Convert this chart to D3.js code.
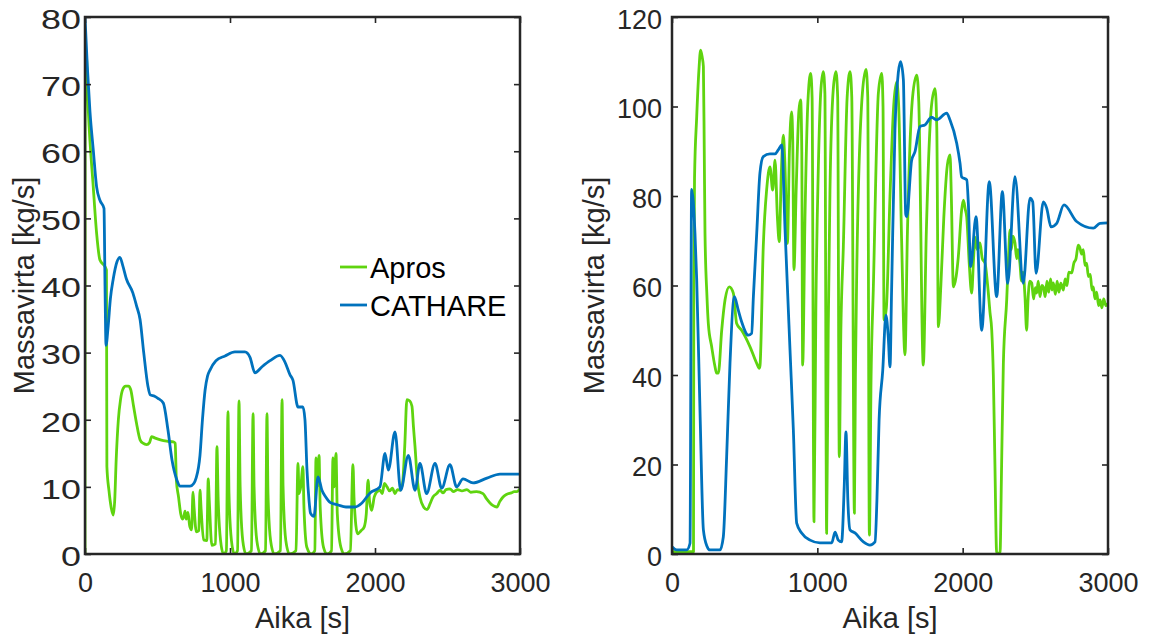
<!DOCTYPE html>
<html><head><meta charset="utf-8">
<script src="https://cdn.jsdelivr.net/npm/d3@7"></script>
<style>body{margin:0;background:#fff}svg{display:block}</style>
</head><body>
<svg id="c" width="1156" height="639"></svg>
<script>
// ---------- data ----------
const xTicks = [0, 1000, 2000, 3000];
const leftYTicks = [0, 10, 20, 30, 40, 50, 60, 70, 80];
const rightYTicks = [0, 20, 40, 60, 80, 100, 120];
const seriesNames = ["Apros", "CATHARE"];
const xLabel = "Aika [s]";
const yLabel = "Massavirta [kg/s]";

const leftApros = [[0,0],[1,75],[7,75],[23,66],[57,54.7],[80,47.8],[103,43.8],[138,42.8],[148,42.3],[151,13],[165,9.5],[180,7],[195,5.8],[205,8],[215,14],[230,20],[245,23],[260,24.5],[280,25],[300,25],[315,24.5],[335,22],[355,19.5],[380,17],[400,16.5],[425,16.3],[445,16.6],[460,17.5],[480,17.3],[520,17],[563,16.8],[610,16.7],[622,16.5],[630,11],[645,8.5],[660,6],[672,5.2],[682,5.6],[690,6.4],[698,5.2],[710,6.2],[722,4.2],[735,3.6],[745,9.2],[752,7],[768,3.3],[785,3.5],[793,9.5],[800,7],[818,2.1],[840,2],[850,11.2],[857,8],[875,1.3],[900,1.5],[910,16],[918,8.5],[935,2],[955,0],[975,0.5],[986,21.2],[993,9],[1010,2],[1030,0],[1052,0.5],[1062,22.8],[1070,10],[1088,2],[1110,0],[1148,0.5],[1159,20.9],[1166,10],[1185,2],[1210,0],[1245,0.5],[1255,20.9],[1262,9],[1280,2],[1305,0],[1348,0.5],[1359,23],[1366,10],[1385,2],[1410,0],[1455,0.5],[1469,13.5],[1476,9],[1488,10],[1503,13],[1510,7],[1530,1],[1560,0],[1585,0.5],[1593,14.3],[1600,10],[1614,14.7],[1622,7],[1645,1],[1670,0],[1700,0.5],[1710,14.3],[1718,10],[1731,15],[1740,6],[1765,1],[1790,0],[1830,0.5],[1848,13.3],[1856,8],[1880,3],[1905,3.5],[1925,4],[1940,6],[1952,11],[1962,8],[1977,6.5],[1995,8.5],[2010,9.2],[2034,9.5],[2050,9],[2065,10.5],[2083,10],[2100,9.4],[2120,9.8],[2138,9],[2155,9.6],[2172,9.5],[2190,10.5],[2205,16],[2220,23],[2240,22.8],[2255,22],[2265,19],[2276,16],[2292,11],[2310,8.5],[2335,7],[2359,6.6],[2380,7.5],[2400,8.5],[2426,9],[2448,9.5],[2470,9.1],[2490,9.6],[2517,9.7],[2540,9.3],[2570,9.6],[2600,9.4],[2634,9.6],[2660,9.2],[2700,9.3],[2745,9],[2770,8.2],[2793,7.6],[2815,7.2],[2841,7],[2860,7.8],[2883,8.5],[2910,8.9],[2940,9.1],[2960,9.3],[2979,9.3],[3000,9.7]];

const leftCathare = [[0,80],[16,72.6],[34,66],[57,60.2],[80,54.7],[103,52.7],[131,51.5],[138,40],[145,31.1],[160,34],[175,38],[195,41],[220,43.5],[241,44.2],[260,43],[285,41],[330,38.9],[355,37],[380,34.9],[405,30],[434,25],[450,23.7],[480,23.5],[503,23.2],[540,22.5],[572,18.5],[600,14],[634,11],[655,10.1],[724,10.1],[750,10.5],[766,11.3],[793,14.7],[810,20],[828,24.4],[845,26.5],[862,27.4],[903,28.8],[966,29.5],[1034,30.1],[1103,30.1],[1138,29.3],[1172,27],[1221,27.9],[1276,28.8],[1345,29.6],[1379,28.6],[1414,26.7],[1434,25.9],[1469,21.9],[1503,21.9],[1517,20],[1531,12.5],[1545,8],[1555,6.1],[1579,5.6],[1607,11.5],[1634,9.5],[1660,8.5],[1690,7.7],[1745,7.3],[1800,7],[1862,7],[1910,7.6],[1966,9.1],[2034,10],[2069,15],[2092,12.5],[2138,18.2],[2177,9.5],[2230,14.7],[2276,9.5],[2310,13.5],[2356,9],[2414,13.5],[2460,9.8],[2517,13.3],[2563,10],[2607,11.2],[2676,10.6],[2772,11.3],[2862,11.9],[3000,11.9]];

const rightApros = [[0,0.5],[148,0.5],[150,60],[155,84],[170,97.7],[185,108],[197,112.6],[208,111],[216,108.9],[222,90],[227,71.7],[240,58],[250,51.5],[273,46.3],[295,42],[307,40.4],[319,40.4],[342,50],[365,56.8],[394,59.7],[422,58.3],[445,51.5],[479,50],[537,46.3],[583,42.6],[601,41.5],[606,42.2],[628,68.7],[651,81.3],[674,86.5],[693,81.3],[709,88],[725,75.4],[738,69.8],[752,85],[766,93.6],[776,88],[794,69.4],[808,90],[823,98.8],[831,92],[839,63.5],[855,82],[873,99],[885,101.5],[893,90],[899,42.2],[915,75],[935,101],[954,107.4],[964,102],[977,7.2],[990,55],[1007,86.5],[1025,104],[1041,107.8],[1052,103],[1064,4.6],[1075,50],[1087,81.3],[1110,104],[1128,107.8],[1140,102],[1151,21.7],[1162,50],[1179,68.7],[1205,102],[1225,107.8],[1237,102],[1255,9.1],[1262,40],[1271,62.7],[1310,103],[1335,108.3],[1347,102],[1358,4.2],[1370,40],[1385,59],[1420,103],[1443,107.4],[1452,100],[1459,52.3],[1475,55],[1500,80],[1525,100],[1546,105.5],[1560,100],[1580,70],[1603,44.5],[1620,72],[1655,102],[1684,107],[1698,101],[1729,42.2],[1750,72],[1785,100],[1810,104],[1822,95],[1833,50.8],[1850,60],[1870,75],[1895,87],[1913,89.2],[1922,80],[1936,59.7],[1955,62],[1970,66.4],[1993,76.9],[2005,79.1],[2018,77],[2028,75.3],[2045,65],[2062,58.3],[2075,66],[2085,70.8],[2100,68],[2119,69.5],[2135,66],[2154,65],[2172,60],[2188,54],[2200,50],[2211,40],[2222,20],[2234,0.2],[2257,0.2],[2268,20],[2280,42.6],[2303,56.8],[2315,66],[2326,72.4],[2335,68],[2345,71],[2360,69.5],[2372,66],[2380,68],[2394,65],[2405,61],[2415,63],[2429,57.4],[2440,50],[2450,57],[2462,61],[2475,60.6],[2488,57],[2500,59.5],[2509,58.3],[2520,61],[2532,57.5],[2545,60],[2555,59.7],[2568,57.5],[2580,61],[2592,58.5],[2605,61.5],[2615,59],[2624,60.6],[2638,58],[2650,61],[2662,58.5],[2675,60.5],[2693,59],[2705,61.5],[2718,60],[2730,63],[2750,62.8],[2765,65],[2780,66],[2795,69],[2807,68.4],[2818,67],[2830,68],[2842,64.5],[2853,65],[2865,62],[2878,62.5],[2890,59],[2899,59.7],[2910,57],[2922,58.5],[2935,55.5],[2945,56.8],[2958,55],[2970,57],[2985,55.5],[3000,56]];

const rightCathare = [[0,1.6],[32,0.9],[101,0.9],[124,2.4],[135,81.5],[158,71.7],[170,61.2],[193,31.5],[216,5.4],[240,1.8],[261,0.9],[330,0.9],[353,3.8],[376,21.7],[399,42.6],[429,57.5],[456,54.5],[479,51.9],[525,48.9],[548,49.3],[560,57.5],[583,71.7],[605,85.1],[628,88.8],[674,89.4],[709,89.4],[731,90.3],[755,91.4],[778,72.4],[812,45.6],[835,27.7],[858,6.9],[892,4.7],[950,3.1],[1018,2.5],[1099,2.5],[1122,4.9],[1144,3.1],[1167,2.7],[1185,15],[1197,27.3],[1210,12],[1225,5.4],[1259,4.7],[1317,2.7],[1362,2],[1397,2.7],[1410,12],[1425,30],[1450,41],[1472,53.4],[1488,48.5],[1500,41.8],[1511,59],[1534,94.7],[1557,107.5],[1573,110],[1592,106],[1608,76],[1615,75.4],[1649,88],[1672,89.9],[1706,95.5],[1741,95.9],[1787,97.6],[1821,97],[1890,98.5],[1913,97],[1959,91.8],[1982,87.3],[1993,84.3],[2028,83.6],[2039,78.4],[2055,64.2],[2092,75.4],[2131,50],[2183,83.2],[2234,57.5],[2273,81],[2310,60.5],[2360,84.3],[2417,60.5],[2463,79.5],[2482,78.7],[2505,62.7],[2555,78.7],[2578,77.3],[2608,73.1],[2647,73.9],[2697,78],[2784,74.3],[2899,72.8],[2945,73.9],[3000,74]];

// ---------- drawing ----------
const svg = d3.select("#c");
const FONT = "'Liberation Sans', Arial, Helvetica, sans-serif";
const INK = "#262626";
const COLORS = { Apros: "#5fd40f", CATHARE: "#0072bd" };

function panel(o) {
  const x = d3.scaleLinear().domain([0, 3000]).range([o.x0, o.x1]);
  const y = d3.scaleLinear().domain([0, o.ymax]).range([o.y1, o.y0]);
  const clipId = "clip" + o.id;
  svg.append("clipPath").attr("id", clipId).append("rect")
    .attr("x", o.x0).attr("y", o.y0).attr("width", o.x1 - o.x0).attr("height", o.y1 - o.y0);

  const line = d3.line().x(d => x(d[0])).y(d => y(d[1])).curve(d3.curveMonotoneX);
  const g = svg.append("g").attr("clip-path", `url(#${clipId})`);
  [[o.apros, COLORS.Apros], [o.cathare, COLORS.CATHARE]].forEach(([d, c]) => {
    g.append("path").datum(d).attr("d", line).attr("fill", "none")
      .attr("stroke", c).attr("stroke-width", 2.8)
      .attr("stroke-linejoin", "round").attr("stroke-linecap", "round");
  });

  const style = (a, fs) => {
    a.select(".domain").remove();
    a.selectAll(".tick line").attr("stroke", INK).attr("stroke-width", 1.6);
    a.selectAll("text").attr("fill", INK).style("font-family", FONT).style("font-size", fs + "px");
    return a;
  };
  style(svg.append("g").attr("transform", `translate(0,${o.y1})`)
    .call(d3.axisBottom(x).tickValues(xTicks).tickSize(-6).tickPadding(19).tickFormat(d3.format("d"))), 27);
  style(svg.append("g").attr("transform", `translate(0,${o.y0})`)
    .call(d3.axisTop(x).tickValues(xTicks).tickSize(-6).tickFormat("")), 27);
  const la = style(svg.append("g").attr("transform", `translate(${o.x0},0)`)
    .call(d3.axisLeft(y).tickValues(o.yTicks).tickSize(-6).tickPadding(o.pad).tickFormat(d3.format("d"))), 27);
  la.selectAll("text").attr("dy", "0.42em").attr("transform", `scale(${o.ysx},1)`);
  style(svg.append("g").attr("transform", `translate(${o.x1},0)`)
    .call(d3.axisRight(y).tickValues(o.yTicks).tickSize(-6).tickFormat("")), 27);

  svg.append("rect").attr("x", o.x0).attr("y", o.y0).attr("width", o.x1 - o.x0).attr("height", o.y1 - o.y0)
    .attr("fill", "none").attr("stroke", INK).attr("stroke-width", 2.5);

  svg.append("text").attr("x", (o.x0 + o.x1) / 2).attr("y", 628).attr("text-anchor", "middle")
    .attr("fill", INK).style("font-family", FONT).style("font-size", "29px").text(xLabel);
  svg.append("text").attr("transform", `translate(${o.ylx},${(o.y0 + o.y1) / 2}) rotate(-90)`)
    .attr("text-anchor", "middle").attr("fill", INK)
    .style("font-family", FONT).style("font-size", "29px").text(yLabel);
}

panel({ id: "L", x0: 85, x1: 520, y0: 17, y1: 554, ymax: 80, yTicks: leftYTicks, pad: 3, ysx: 1.33, ylx: 34,
        apros: leftApros, cathare: leftCathare });
panel({ id: "R", x0: 672, x1: 1108, y0: 17, y1: 554, ymax: 120, yTicks: rightYTicks, pad: 10, ysx: 1, ylx: 604,
        apros: rightApros, cathare: rightCathare });

// legend (left panel)
const leg = svg.append("g");
seriesNames.forEach((n, i) => {
  const yy = 267 + i * 38;
  leg.append("line").attr("x1", 340).attr("x2", 367).attr("y1", yy).attr("y2", yy)
    .attr("stroke", COLORS[n]).attr("stroke-width", 2.8);
  leg.append("text").attr("x", 370).attr("y", yy + 11).attr("fill", "#000")
    .style("font-family", FONT).style("font-size", "29px").text(n);
});
</script>
</body></html>
